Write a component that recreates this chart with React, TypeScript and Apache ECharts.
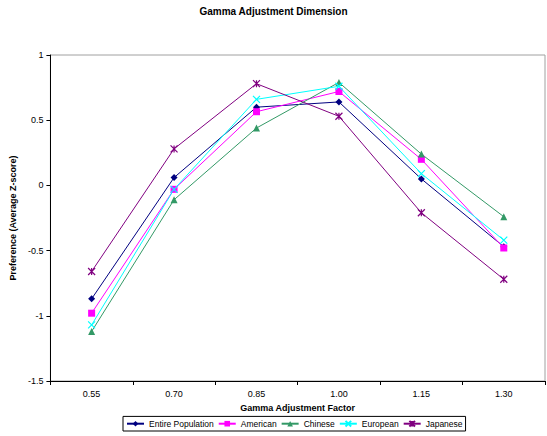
import React, { useEffect, useRef } from "react";
import * as echarts from "echarts";

const categories = ["0.55", "0.70", "0.85", "1.00", "1.15", "1.30"];
const entirePopulation = [-0.87, 0.06, 0.6, 0.64, 0.05, -0.47];
const american = [-0.98, -0.03, 0.565, 0.72, 0.2, -0.48];
const chinese = [-1.12, -0.11, 0.44, 0.79, 0.24, -0.24];
const european = [-1.07, -0.03, 0.66, 0.76, 0.09, -0.42];
const japanese = [-0.66, 0.28, 0.78, 0.53, -0.21, -0.72];

const FONT = "Liberation Sans, Arial, sans-serif";
const X_SYMBOL = "path://M0,0L10,10M10,0L0,10";
const STAR_SYMBOL = "path://M0,0L10,10M10,0L0,10M5,0L5,10";

function mkSeries(name: string, data: number[], color: string, symbol: string, size: number, stroke = false) {
  return {
    name,
    type: "line",
    data,
    symbol,
    symbolSize: size,
    showSymbol: true,
    lineStyle: { color, width: 1 },
    itemStyle: stroke
      ? { color: "none", borderColor: color, borderWidth: 1.2 }
      : { color, borderColor: color, borderWidth: 0 },
    emphasis: { disabled: true },
  };
}

export default function App() {
  const ref = useRef<HTMLDivElement>(null);
  useEffect(() => {
    document.body.style.margin = "0";
    const chart = echarts.init(ref.current!, null, { renderer: "svg" });
    chart.setOption({
      animation: false,
      backgroundColor: "#ffffff",
      textStyle: { fontFamily: FONT },
      title: {
        text: "Gamma Adjustment Dimension",
        left: "center",
        top: 1,
        textStyle: { fontFamily: FONT, fontSize: 10, fontWeight: "bold", color: "#000" },
      },
      grid: {
        left: 48,
        right: 2,
        top: 55,
        bottom: 55,
        show: true,
        borderColor: "#a0a0a0",
        borderWidth: 1,
      },
      xAxis: {
        type: "category",
        data: categories,
        boundaryGap: true,
        name: "Gamma Adjustment Factor",
        nameLocation: "middle",
        nameGap: 22,
        nameTextStyle: { fontFamily: FONT, fontSize: 9, fontWeight: "bold", color: "#000" },
        axisLine: { onZero: false, lineStyle: { color: "#000", width: 1 } },
        axisTick: { show: true, inside: false, length: 4, lineStyle: { color: "#000" } },
        axisLabel: { fontFamily: FONT, fontSize: 9, color: "#000", margin: 8 },
        splitLine: { show: false },
      },
      yAxis: {
        type: "value",
        min: -1.5,
        max: 1,
        interval: 0.5,
        name: "Preference (Average Z-score)",
        nameLocation: "middle",
        nameGap: 27,
        nameTextStyle: { fontFamily: FONT, fontSize: 9, fontWeight: "bold", color: "#000" },
        axisLine: { show: true, onZero: false, lineStyle: { color: "#000", width: 1 } },
        axisTick: { show: true, inside: false, length: 4, lineStyle: { color: "#000" } },
        axisLabel: { fontFamily: FONT, fontSize: 9, color: "#000", margin: 7 },
        splitLine: { show: false },
      },
      legend: {
        bottom: 5,
        left: 123,
        itemWidth: 17,
        itemHeight: 7,
        itemGap: 4,
        padding: [2, 3],
        borderColor: "#000",
        borderWidth: 1,
        textStyle: { fontFamily: FONT, fontSize: 8.5, color: "#000" },
        data: ["Entire Population", "American", "Chinese", "European", "Japanese"],
      },
      series: [
        mkSeries("Entire Population", entirePopulation, "#000080", "diamond", 7),
        mkSeries("American", american, "#ff00ff", "rect", 7),
        mkSeries("Chinese", chinese, "#339966", "triangle", 7),
        mkSeries("European", european, "#00ffff", X_SYMBOL, 7, true),
        mkSeries("Japanese", japanese, "#800080", STAR_SYMBOL, 7, true),
      ],
    });
    return () => chart.dispose();
  }, []);
  return <div ref={ref} style={{ width: 547, height: 436 }} />;
}
